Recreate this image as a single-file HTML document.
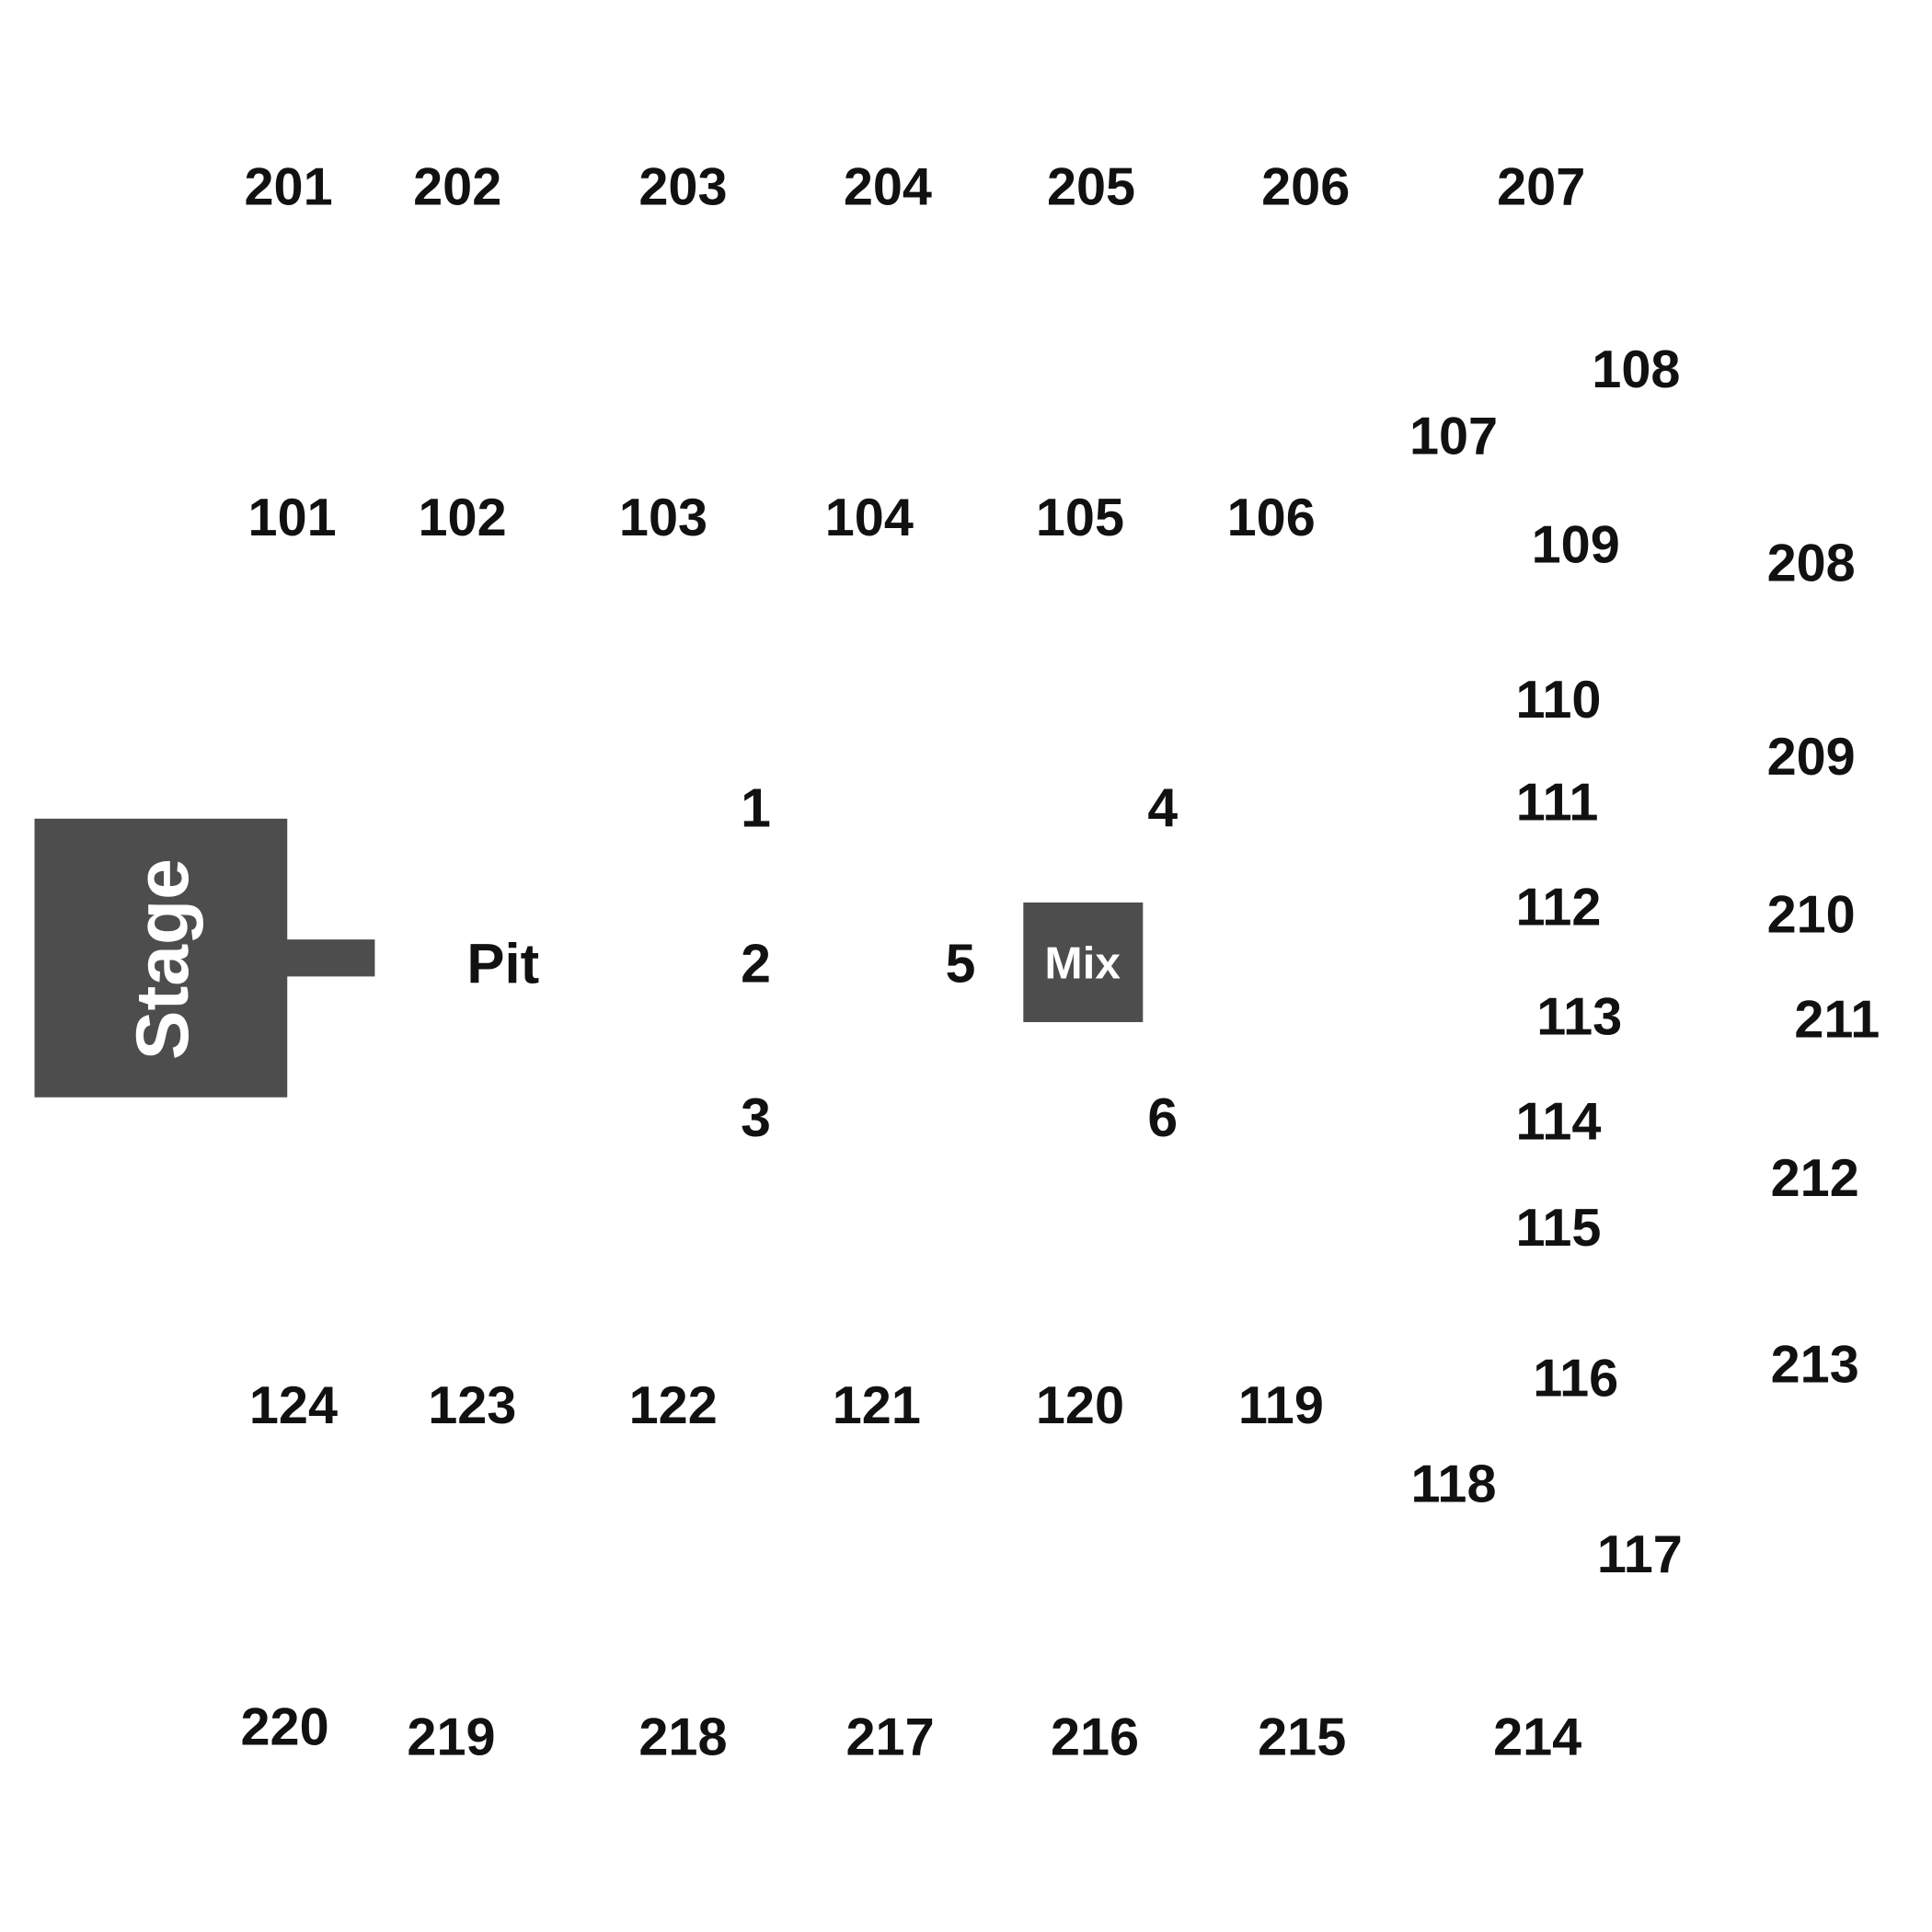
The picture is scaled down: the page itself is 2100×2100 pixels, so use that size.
<!DOCTYPE html>
<html><head><meta charset="utf-8"><style>
html,body{margin:0;padding:0;background:#fff;width:2100px;height:2100px;overflow:hidden}
svg{display:block}
text{font-family:"Liberation Sans",Arial,sans-serif;font-weight:bold;fill:#111;text-anchor:middle;dominant-baseline:central}
</style></head><body>
<svg width="2100" height="2100" viewBox="0 0 1567 1567">
<rect x="28" y="664" width="205" height="226" fill="#4d4d4d"/>
<rect x="232" y="762" width="72" height="30" fill="#4d4d4d"/>
<rect x="830" y="732" width="97" height="97" fill="#4d4d4d"/>
<text x="132" y="778" transform="rotate(-90 132 778)" style="fill:#fff;font-size:60px">Stage</text>
<text x="878" y="781" style="fill:#fff;font-size:37px">Mix</text>
<text x="408" y="782" style="font-size:46px">Pit</text>
<g style="font-size:44px">
<text x="613" y="656">1</text><text x="613" y="782">2</text><text x="613" y="907">3</text>
<text x="943" y="656">4</text><text x="779" y="782">5</text><text x="943" y="907">6</text>
</g>
<g style="font-size:43px">
<text x="234" y="152">201</text><text x="371" y="152">202</text><text x="554" y="152">203</text><text x="720" y="152">204</text><text x="885" y="152">205</text><text x="1059" y="152">206</text><text x="1250" y="152">207</text>
<text x="237" y="420">101</text><text x="375" y="420">102</text><text x="538" y="420">103</text><text x="705" y="420">104</text><text x="876" y="420">105</text><text x="1031" y="420">106</text>
<text x="1179" y="354">107</text><text x="1327" y="300">108</text><text x="1278" y="442">109</text>
<text x="1469" y="457">208</text><text x="1264" y="568">110</text><text x="1469" y="614">209</text>
<text x="1263" y="651">111</text><text x="1264" y="736">112</text><text x="1469" y="742">210</text>
<text x="1281" y="825">113</text><text x="1490" y="827">211</text><text x="1264" y="910">114</text>
<text x="1472" y="956">212</text><text x="1264" y="996">115</text><text x="1278" y="1118">116</text>
<text x="1472" y="1107">213</text><text x="1179" y="1204">118</text><text x="1330" y="1261">117</text>
<text x="238" y="1140">124</text><text x="383" y="1140">123</text><text x="546" y="1140">122</text><text x="711" y="1140">121</text><text x="876" y="1140">120</text><text x="1039" y="1140">119</text>
<text x="231" y="1401">220</text><text x="366" y="1409">219</text><text x="554" y="1409">218</text><text x="722" y="1409">217</text><text x="888" y="1409">216</text><text x="1056" y="1409">215</text><text x="1247" y="1409">214</text>
</g>
</svg>
</body></html>
